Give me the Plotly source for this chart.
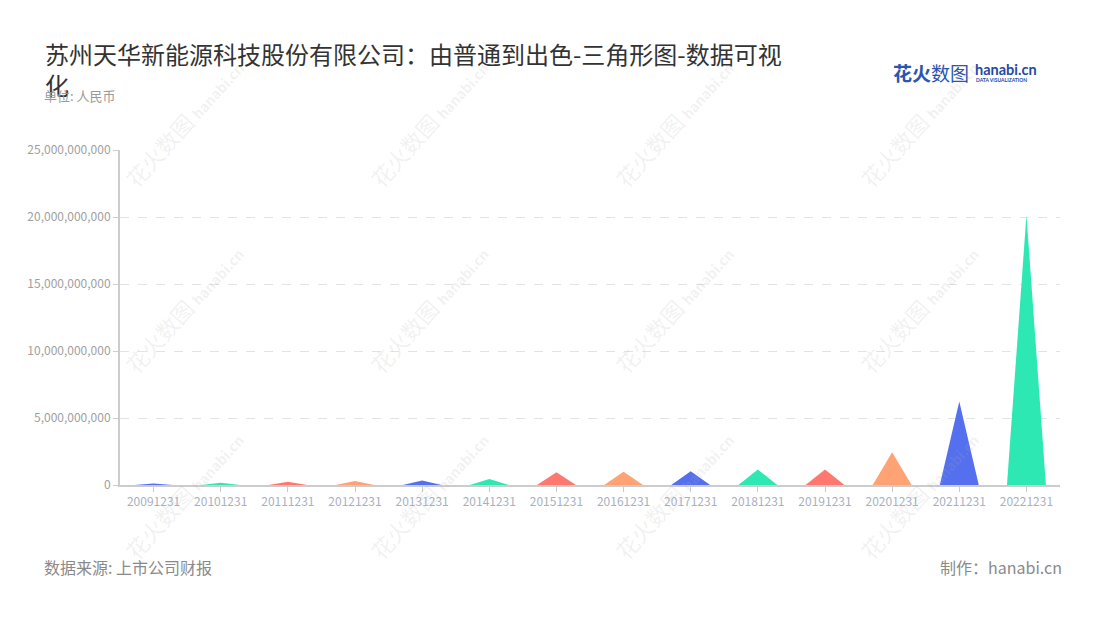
import plotly.graph_objects as go

# ---- data ----
categories = ["20091231", "20101231", "20111231", "20121231", "20131231", "20141231",
              "20151231", "20161231", "20171231", "20181231", "20191231", "20201231",
              "20211231", "20221231"]
values = [0.12e9, 0.17e9, 0.25e9, 0.30e9, 0.33e9, 0.45e9, 0.96e9, 0.99e9, 1.02e9,
          1.15e9, 1.15e9, 2.45e9, 6.23e9, 20.15e9]
palette = ["#5470EE", "#2EE8B4", "#FF7870", "#FFA274"]
y_ticks = [0, 5e9, 10e9, 15e9, 20e9, 25e9]

title_text = "苏州天华新能源科技股份有限公司：由普通到出色-三角形图-数据可视<br>化"
subtitle_text = "单位: 人民币"
source_text = "数据来源: 上市公司财报"
maker_text = "制作：hanabi.cn"

CJK = "Noto Sans CJK SC, Noto Sans, sans-serif"
half_w = 0.29

W, H = 1100, 620
ML, MR, MT, MB = 120, 40, 150, 135
PW, PH = W - ML - MR, H - MT - MB


def px(x):
    return (x - ML) / PW


def py(y):
    return (H - MB - y) / PH


fig = go.Figure()

for i, (cat, v) in enumerate(zip(categories, values)):
    col = palette[i % len(palette)]
    fig.add_trace(go.Scatter(
        x=[i - half_w, i, i + half_w, i - half_w],
        y=[0, v, 0, 0],
        mode="lines",
        fill="toself",
        fillcolor=col,
        line=dict(color=col, width=0),
        name=cat,
        hoverinfo="text",
        text=f"{cat}: {v:,.0f}",
        showlegend=False,
    ))

annotations = []
# watermarks
wm_cols = [183, 428, 673, 918]
wm_rows = [123, 309, 495]
for cx in wm_cols:
    for cy in wm_rows:
        annotations.append(dict(
            x=px(cx), y=py(cy), xref="paper", yref="paper",
            text="花火数图 <b><span style='font-size:14px'>hanabi.cn</span></b>",
            showarrow=False, textangle=-48,
            font=dict(family=CJK, size=22, color="rgba(170,170,170,0.16)"),
            xanchor="center", yanchor="middle",
        ))

# title + subtitle
annotations.append(dict(
    x=px(43), y=py(69), xref="paper", yref="paper",
    text=title_text, showarrow=False, align="left",
    xanchor="left", yanchor="middle",
    font=dict(family=CJK, size=24, color="#333333"),
))
annotations.append(dict(
    x=px(42), y=py(96), xref="paper", yref="paper",
    text=subtitle_text, showarrow=False, align="left",
    xanchor="left", yanchor="middle",
    font=dict(family=CJK, size=13, color="#9a9a9a"),
))
# logo
annotations.append(dict(
    x=px(891), y=py(73), xref="paper", yref="paper",
    text="<b>花火</b>数图", showarrow=False,
    xanchor="left", yanchor="middle",
    font=dict(family=CJK, size=19, color="#2A55B0"),
))
annotations.append(dict(
    x=px(973), y=py(69), xref="paper", yref="paper",
    text="<b>hanabi.cn</b>", showarrow=False,
    xanchor="left", yanchor="middle",
    font=dict(family="Lato, Noto Sans, sans-serif", size=14.5, color="#2349A8"),
))
annotations.append(dict(
    x=px(974), y=py(80), xref="paper", yref="paper",
    text="<b>DATA VISUALIZATION</b>", showarrow=False,
    xanchor="left", yanchor="middle",
    font=dict(family="Lato, Noto Sans, sans-serif", size=5, color="#2349A8"),
))
# footer
annotations.append(dict(
    x=px(42), y=py(567), xref="paper", yref="paper",
    text=source_text, showarrow=False, xanchor="left", yanchor="middle",
    font=dict(family=CJK, size=16, color="#8a8a8a"),
))
annotations.append(dict(
    x=px(1064), y=py(567), xref="paper", yref="paper",
    text=maker_text, showarrow=False, xanchor="right", yanchor="middle",
    font=dict(family=CJK, size=16, color="#8a8a8a"),
))

fig.update_layout(
    width=W, height=H,
    paper_bgcolor="white", plot_bgcolor="white",
    margin=dict(l=ML, r=MR, t=MT, b=MB),
    annotations=annotations,
    font=dict(family=CJK),
    hovermode="closest",
)

fig.update_xaxes(
    range=[-0.5, len(categories) - 0.5],
    tickmode="array", tickvals=list(range(len(categories))), ticktext=categories,
    showgrid=False, zeroline=False,
    showline=True, linecolor="#CCCCCC", linewidth=2,
    ticks="outside", ticklen=5, tickcolor="#CCCCCC", tickwidth=1,
    tickfont=dict(family=CJK, size=12, color="#A9B0C2"),
    fixedrange=True,
)
fig.update_yaxes(
    range=[0, 25e9],
    tickmode="array", tickvals=y_ticks,
    ticktext=[f"{int(t):,}" for t in y_ticks],
    showgrid=True, gridcolor="#E3E3E3", griddash="dash", gridwidth=1,
    zeroline=False,
    showline=True, linecolor="#CCCCCC", linewidth=2,
    ticks="outside", ticklen=5, tickcolor="#CCCCCC", tickwidth=1,
    tickfont=dict(family=CJK, size=12, color="#A0A0A0"),
    fixedrange=True,
)

fig.write_html(
    "out.html",
    config={"displayModeBar": False},
    post_script="document.body.style.margin='0';document.body.style.overflow='hidden';",
)
